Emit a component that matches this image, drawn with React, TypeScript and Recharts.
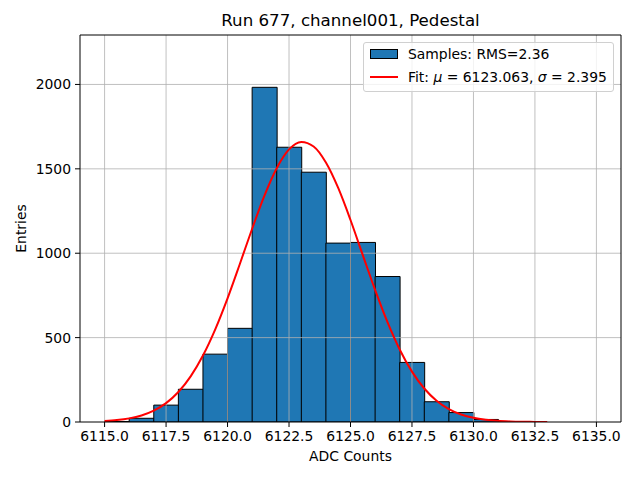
import React from 'react';
import { ComposedChart, Bar, Line, XAxis, YAxis, ReferenceLine } from 'recharts';

const binCenters = [6115.5, 6116.5, 6117.5, 6118.5, 6119.5, 6120.5, 6121.5, 6122.5, 6123.5, 6124.5, 6125.5, 6126.5, 6127.5, 6128.5, 6129.5, 6130.5, 6131.5, 6132.5, 6133.5, 6134.5];
const binCounts = [3, 22, 100, 194, 402, 555, 1983, 1628, 1480, 1060, 1064, 862, 353, 120, 56, 15, 2, 0, 0, 0];

const fitX = [6115, 6115.5, 6116, 6116.5, 6117, 6117.5, 6118, 6118.5, 6119, 6119.5, 6120, 6120.5, 6121, 6121.5, 6122, 6122.5, 6123, 6123.5, 6124, 6124.5, 6125, 6125.5, 6126, 6126.5, 6127, 6127.5, 6128, 6128.5, 6129, 6129.5, 6130, 6130.5, 6131, 6131.5, 6132, 6132.5, 6133];
const fitY = [5.7, 11.3, 21.4, 38.8, 67.4, 111.8, 177.7, 270.4, 393.8, 549, 732.7, 936.4, 1145, 1341.6, 1504, 1615, 1659.5, 1632.6, 1537.7, 1386.6, 1197, 989, 782.7, 592.8, 429.9, 298.5, 198.4, 126.2, 76.9, 44.8, 25, 13.4, 6.8, 3.4, 1.6, 0.7, 0.3];

const xTicks = [6115, 6117.5, 6120, 6122.5, 6125, 6127.5, 6130, 6132.5, 6135];
const yTicks = [0, 500, 1000, 1500, 2000];
const xDomain = [6114, 6136];
const yDomain = [0, 2293];

const titleText = 'Run 677, channel001, Pedestal';
const xLabel = 'ADC Counts';
const yLabel = 'Entries';
const barLegend = 'Samples: RMS=2.36';

const barColor = '#1f77b4';
const fitColor = '#ff0000';
const gridColor = '#b0b0b0';
const font = "'DejaVu Sans', sans-serif";

const barData = binCenters.map((x, i) => ({ x, count: binCounts[i] }));
const fitData = fitX.map((x, i) => ({ x, fit: fitY[i] }));

const LegendBox = () => (
  <div
    style={{
      position: 'absolute',
      left: 363,
      top: 42,
      width: 249,
      height: 48,
      border: '1px solid #d0d0d0',
      borderRadius: 3,
      background: 'rgba(255,255,255,0.8)',
      fontFamily: font,
      fontSize: 13.9,
      color: '#000',
      boxSizing: 'content-box',
    }}
  >
    <div style={{ position: 'absolute', left: 6, top: 6, width: 28, height: 10, background: barColor, border: '1px solid #000', boxSizing: 'border-box' }} />
    <div style={{ position: 'absolute', left: 44, top: 2, lineHeight: '18px', whiteSpace: 'nowrap' }}>{barLegend}</div>
    <div style={{ position: 'absolute', left: 6, top: 33, width: 28, height: 2, background: fitColor }} />
    <div style={{ position: 'absolute', left: 44, top: 25, lineHeight: '18px', whiteSpace: 'nowrap' }}>
      Fit: <i>μ</i> = 6123.063, <i>σ</i> = 2.395
    </div>
  </div>
);

export default function App() {
  return (
    <div style={{ position: 'absolute', left: 0, top: 0, width: 640, height: 480, background: '#fff' }}>
      <div
        style={{
          position: 'absolute',
          left: 80,
          width: 541,
          top: 11,
          textAlign: 'center',
          fontFamily: font,
          fontSize: 16.67,
          lineHeight: '20px',
          color: '#000',
          whiteSpace: 'nowrap',
        }}
      >
        {titleText}
      </div>
      <ComposedChart
        width={640}
        height={480}
        data={barData}
        margin={{ top: 35, right: 19, bottom: 0, left: 0 }}
        barCategoryGap={0}
        barGap={0}
        style={{ position: 'absolute', left: 0, top: 0 }}
      >
        <XAxis
          xAxisId={0}
          dataKey="x"
          type="number"
          domain={xDomain}
          ticks={xTicks}
          allowDataOverflow
          height={58}
          tickFormatter={(v: number) => v.toFixed(1)}
          tick={{ fill: '#000', fontSize: 13.9, fontFamily: font }}
          tickSize={5}
          tickMargin={4}
          tickLine={{ stroke: '#000' }}
          axisLine={{ stroke: '#000' }}
          label={{ value: xLabel, position: 'insideBottom', offset: 19, fill: '#000', fontSize: 13.9, fontFamily: font }}
        />
        <XAxis
          xAxisId="fit"
          dataKey="x"
          type="number"
          orientation="top"
          domain={xDomain}
          allowDataOverflow
          height={0}
          tick={false}
          tickLine={false}
          axisLine={false}
        />
        <YAxis
          yAxisId={0}
          type="number"
          domain={yDomain}
          ticks={yTicks}
          allowDataOverflow
          width={80}
          tick={{ fill: '#000', fontSize: 13.9, fontFamily: font }}
          tickSize={5}
          tickMargin={4}
          tickLine={{ stroke: '#000' }}
          axisLine={{ stroke: '#000' }}
          label={{ value: yLabel, angle: -90, position: 'insideLeft', offset: 21, fill: '#000', fontSize: 13.9, fontFamily: font, style: { textAnchor: 'middle' } }}
        />
        <Bar
          dataKey="count"
          xAxisId={0}
          yAxisId={0}
          fill={barColor}
          stroke="#000"
          strokeWidth={1}
          isAnimationActive={false}
          name={barLegend}
        />
        {xTicks.map((t) => (
          <ReferenceLine key={'gx' + t} x={t} xAxisId={0} yAxisId={0} stroke={gridColor} strokeWidth={0.8} />
        ))}
        {yTicks.filter((t) => t > 0).map((t) => (
          <ReferenceLine key={'gy' + t} y={t} xAxisId={0} yAxisId={0} stroke={gridColor} strokeWidth={0.8} />
        ))}
        <ReferenceLine y={yDomain[1]} xAxisId={0} yAxisId={0} stroke="#000" strokeWidth={1} />
        <ReferenceLine x={xDomain[1]} xAxisId={0} yAxisId={0} stroke="#000" strokeWidth={1} />
        <Line
          data={fitData}
          dataKey="fit"
          xAxisId="fit"
          yAxisId={0}
          type="monotone"
          stroke={fitColor}
          strokeWidth={2}
          dot={false}
          activeDot={false}
          isAnimationActive={false}
          name="Fit"
        />
      </ComposedChart>
      <LegendBox />
    </div>
  );
}
